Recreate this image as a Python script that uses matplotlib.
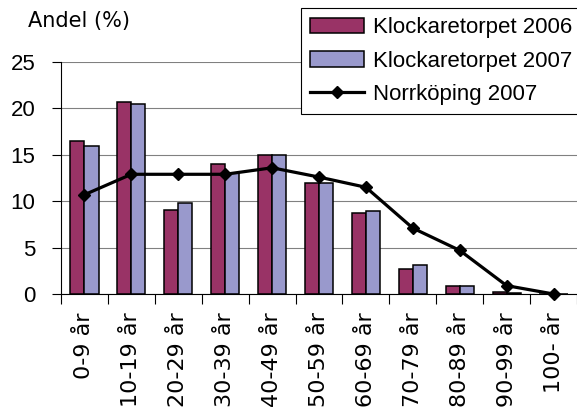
import matplotlib
matplotlib.use("Agg")
import matplotlib.pyplot as plt
import numpy as np

plt.rcParams["font.family"] = ["Liberation Sans", "DejaVu Sans"]

CATEGORIES = ["0-9 år", "10-19 år", "20-29 år", "30-39 år", "40-49 år", "50-59 år",
              "60-69 år", "70-79 år", "80-89 år", "90-99 år", "100- år"]
KLOCK_2006 = [16.5, 20.7, 9.1, 14.0, 15.0, 12.0, 8.7, 2.7, 0.9, 0.2, 0.0]
KLOCK_2007 = [16.0, 20.5, 9.8, 13.0, 15.0, 12.0, 8.9, 3.1, 0.9, 0.1, 0.0]
NORRK_2007 = [10.7, 12.9, 12.9, 12.9, 13.6, 12.6, 11.5, 7.1, 4.7, 0.9, 0.0]
LABELS = ["Klockaretorpet 2006", "Klockaretorpet 2007", "Norrköping 2007"]

COLORS = {"2006": "#993366", "2007": "#9999CC"}

W, H = 577, 407
fig = plt.figure(figsize=(W / 100, H / 100), dpi=100)
ax = fig.add_axes([61 / W, 1 - 294 / H, (W - 61) / W, (294 - 62) / H])

x = np.arange(len(CATEGORIES))
width = 0.3
b1 = ax.bar(x - width / 2, KLOCK_2006, width, color=COLORS["2006"], edgecolor="black",
            linewidth=1.1, label=LABELS[0], zorder=3)
b2 = ax.bar(x + width / 2, KLOCK_2007, width, color=COLORS["2007"], edgecolor="black",
            linewidth=1.1, label=LABELS[1], zorder=3)
ln, = ax.plot(x, NORRK_2007, color="black", linewidth=2.3, marker="D", markersize=6.3,
              label=LABELS[2], zorder=4, clip_on=False)

ax.set_xlim(-0.5, len(CATEGORIES) - 0.5)
ax.set_ylim(0, 25)
ax.set_yticks([0, 5, 10, 15, 20, 25])
ax.tick_params(axis="y", labelsize=16, length=6.5, width=0.8, direction="out", pad=12)
ax.yaxis.grid(True, color="#808080", linewidth=0.8)
ax.set_axisbelow(True)

# the original draws these labels stretched; the wider DejaVu face comes closest
ax.set_xticks(x)
ax.set_xticklabels(CATEGORIES, rotation=90, fontsize=16, va="top",
                   family=["DejaVu Sans"])
ax.tick_params(axis="x", which="major", length=0, pad=13)
ax.set_xticks(np.arange(-0.5, len(CATEGORIES)), minor=True)
ax.tick_params(axis="x", which="minor", length=7, width=0.8, direction="out")

for s in ["top", "right"]:
    ax.spines[s].set_visible(False)
ax.spines["left"].set_linewidth(0.8)
ax.spines["bottom"].set_linewidth(0.8)

fig.text(28 / W, 1 - 21 / H, "Andel (%)", fontsize=15, va="center", ha="left",
         family=["DejaVu Sans"])

leg = fig.legend(handles=[b1, b2, ln], labels=LABELS, loc="upper left",
                 bbox_to_anchor=(301 / W, 1 - 8 / H), fontsize=16, frameon=True,
                 fancybox=False, framealpha=1, edgecolor="black", borderpad=0.42,
                 labelspacing=0.55, handlelength=2.4, handletextpad=0.4,
                 borderaxespad=0)
leg.get_frame().set_linewidth(0.8)

fig.savefig("out.png", dpi=100)
